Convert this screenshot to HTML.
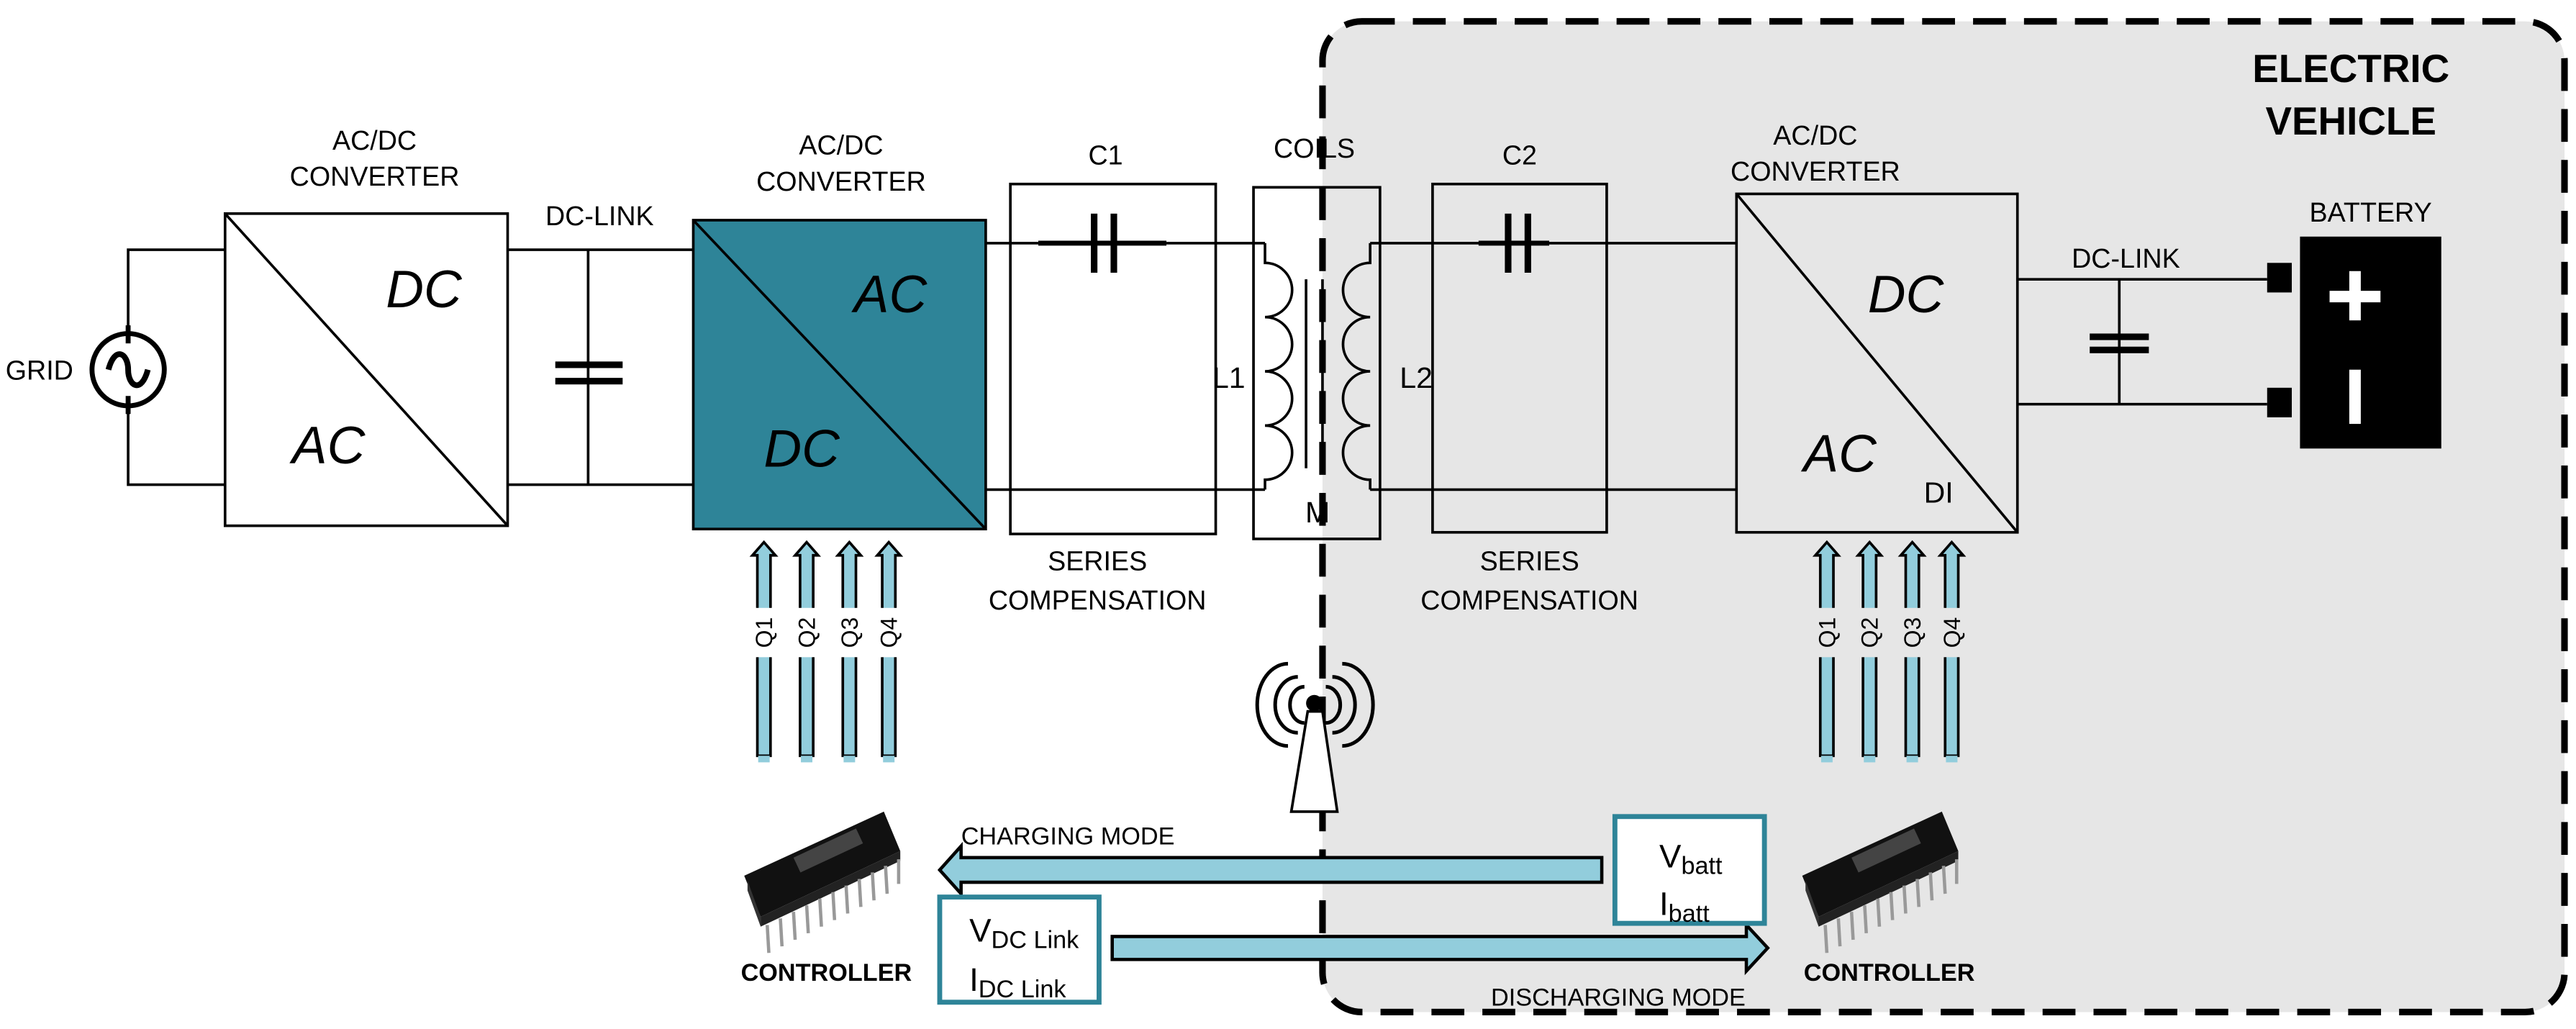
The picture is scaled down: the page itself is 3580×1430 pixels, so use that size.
<!DOCTYPE html>
<html><head><meta charset="utf-8"><style>
html,body{margin:0;padding:0;background:#fff;}
svg{display:block;}
text{font-family:"Liberation Sans",sans-serif;fill:#000;}
</style></head><body>
<svg width="3580" height="1430" viewBox="0 0 1568 626.3" xmlns="http://www.w3.org/2000/svg">
<defs>
<g id="chip">
  <polygon points="0,25 85,-14 95,10 10,50" fill="#111"/>
  <polygon points="2,28 10,50 10,56 2,34" fill="#333"/>
  <polygon points="10,50 95,10 95,16 10,56" fill="#222"/>
  <rect x="30" y="14" width="42" height="10" fill="#444" transform="rotate(-25 30 14)"/>
  <g stroke="#999" stroke-width="2">
    <line x1="14" y1="55" x2="15" y2="72"/><line x1="22" y1="51" x2="23" y2="68"/>
    <line x1="30" y1="47" x2="31" y2="64"/><line x1="38" y1="43" x2="39" y2="60"/>
    <line x1="46" y1="39" x2="47" y2="56"/><line x1="54" y1="35" x2="55" y2="52"/>
    <line x1="62" y1="31" x2="63" y2="48"/><line x1="70" y1="27" x2="71" y2="44"/>
    <line x1="78" y1="23" x2="79" y2="40"/><line x1="86" y1="19" x2="87" y2="36"/>
    <line x1="94" y1="15" x2="94" y2="30"/>
  </g>
</g>
<g id="qarrow">
  <polygon points="-4,0 -4,-122 -7,-122 0,-130 7,-122 4,-122 4,0" fill="#92cddc" stroke="#000" stroke-width="1.6"/>
  <rect x="-3.5" y="0" width="7" height="4" fill="#92cddc"/>
</g>
</defs>

<rect x="805" y="13" width="756" height="603" rx="24" fill="#e6e6e6" stroke="#000" stroke-width="4" stroke-dasharray="20,11"/>
<text x="1431" y="50" font-size="24" font-weight="bold" text-anchor="middle">ELECTRIC</text>
<text x="1431" y="82" font-size="24" font-weight="bold" text-anchor="middle">VEHICLE</text>

<g stroke="#000" stroke-width="1.6" fill="none">
  <circle cx="78" cy="225" r="22" stroke-width="3"/>
  <path d="M66,225 C70,210 78,215 78,225 C78,235 86,240 90,225" stroke-width="3.5"/>
  <path d="M78,203 V152 H137 M78,247 V295 H137"/>
  <line x1="78" y1="198" x2="78" y2="209" stroke-width="3"/>
  <line x1="78" y1="241" x2="78" y2="252" stroke-width="3"/>
  <rect x="137" y="130" width="172" height="190"/>
  <line x1="137" y1="130" x2="309" y2="320"/>
  <path d="M309,152 H422 M309,295 H422 M358,152 V295"/>
  <line x1="338" y1="222" x2="379" y2="222" stroke-width="4"/>
  <line x1="338" y1="232" x2="379" y2="232" stroke-width="4"/>
  <rect x="422" y="134" width="178" height="188" fill="#2e8498"/>
  <line x1="422" y1="134" x2="600" y2="322"/>
  <path d="M600,148 H632 M710,148 H770 M600,298 H770"/>
  <rect x="615" y="112" width="125" height="213"/>
  <line x1="632" y1="148" x2="710" y2="148" stroke-width="3"/>
  <line x1="666" y1="130" x2="666" y2="166" stroke-width="4"/>
  <line x1="678" y1="130" x2="678" y2="166" stroke-width="4"/>
  <rect x="763" y="114" width="77" height="214"/>
  <path d="M770,148 V160 a16,16 0 0 1 0,33 a16,16 0 0 1 0,33 a16,16 0 0 1 0,33 a16,16 0 0 1 0,33 V298"/>
  <line x1="795" y1="170" x2="795" y2="285" stroke-width="1.6"/>
  <line x1="805" y1="170" x2="805" y2="285" stroke-width="1.6"/>
  <path d="M834,148 V160 a16,16 0 0 0 0,33 a16,16 0 0 0 0,33 a16,16 0 0 0 0,33 a16,16 0 0 0 0,33 V298"/>
  <path d="M834,148 H914 M942,148 H1057 M834,298 H1057"/>
  <rect x="872" y="112" width="106" height="212"/>
  <line x1="900" y1="148" x2="943" y2="148" stroke-width="3"/>
  <line x1="918" y1="130" x2="918" y2="166" stroke-width="4"/>
  <line x1="930" y1="130" x2="930" y2="166" stroke-width="4"/>
  <rect x="1057" y="118" width="171" height="206"/>
  <line x1="1057" y1="118" x2="1228" y2="324"/>
  <path d="M1228,170 H1380 M1228,246 H1380 M1290,170 V246"/>
  <line x1="1272" y1="205" x2="1308" y2="205" stroke-width="4"/>
  <line x1="1272" y1="213" x2="1308" y2="213" stroke-width="4"/>
</g>

<rect x="1380" y="160" width="15" height="18" fill="#000"/>
<rect x="1380" y="236" width="15" height="18" fill="#000"/>
<rect x="1400" y="144" width="86" height="129" fill="#000"/>
<rect x="1430" y="165" width="7" height="30" fill="#fff"/>
<rect x="1418" y="177" width="31" height="7" fill="#fff"/>
<rect x="1430" y="225" width="7" height="33" fill="#fff"/>

<g font-size="16.5" text-anchor="middle">
  <text x="24" y="231">GRID</text>
  <text x="228" y="91">AC/DC</text><text x="228" y="113">CONVERTER</text>
  <text x="365" y="137">DC-LINK</text>
  <text x="512" y="94">AC/DC</text><text x="512" y="116">CONVERTER</text>
  <text x="673" y="100">C1</text>
  <text x="800" y="96">COILS</text>
  <text x="925" y="100">C2</text>
  <text x="1105" y="88">AC/DC</text><text x="1105" y="110">CONVERTER</text>
  <text x="1443" y="135">BATTERY</text>
  <text x="1294" y="163">DC-LINK</text>
  <text x="668" y="347">SERIES</text><text x="668" y="371">COMPENSATION</text>
  <text x="931" y="347">SERIES</text><text x="931" y="371">COMPENSATION</text>
  <text x="748" y="236" font-size="18">L1</text>
  <text x="862" y="236" font-size="18">L2</text>
  <text x="802" y="318" font-size="18">M</text>
  <text x="1180" y="306" font-size="18">DI</text>
</g>
<g font-size="32" font-style="italic" text-anchor="middle">
  <text x="258" y="187">DC</text><text x="200" y="282">AC</text>
  <text x="542" y="190">AC</text><text x="488" y="284">DC</text>
  <text x="1160" y="190">DC</text><text x="1120" y="287">AC</text>
</g>

<g>
  <use href="#qarrow" x="465" y="460"/><use href="#qarrow" x="491" y="460"/>
  <use href="#qarrow" x="517" y="460"/><use href="#qarrow" x="541" y="460"/>
  <use href="#qarrow" x="1112" y="460"/><use href="#qarrow" x="1138" y="460"/>
  <use href="#qarrow" x="1164" y="460"/><use href="#qarrow" x="1188" y="460"/>
</g>
<g fill="#fff">
  <rect x="458" y="370" width="14" height="30"/><rect x="484" y="370" width="14" height="30"/>
  <rect x="510" y="370" width="14" height="30"/><rect x="534" y="370" width="14" height="30"/>
</g>
<g fill="#e6e6e6">
  <rect x="1105" y="370" width="14" height="30"/><rect x="1131" y="370" width="14" height="30"/>
  <rect x="1157" y="370" width="14" height="30"/><rect x="1181" y="370" width="14" height="30"/>
</g>
<g font-size="14" text-anchor="middle">
  <text transform="translate(470,385) rotate(-90)">Q1</text>
  <text transform="translate(496,385) rotate(-90)">Q2</text>
  <text transform="translate(522,385) rotate(-90)">Q3</text>
  <text transform="translate(546,385) rotate(-90)">Q4</text>
  <text transform="translate(1117,385) rotate(-90)">Q1</text>
  <text transform="translate(1143,385) rotate(-90)">Q2</text>
  <text transform="translate(1169,385) rotate(-90)">Q3</text>
  <text transform="translate(1193,385) rotate(-90)">Q4</text>
</g>

<g stroke="#000" fill="none" stroke-width="2.2">
  <polygon points="796,433 805,433 814,494 786,494" fill="#fff" stroke-width="1.6"/>
  <path d="M794,418 a8,10 0 0 0 0,22 M807,418 a8,10 0 0 1 0,22"/>
  <path d="M790,412 a13,16 0 0 0 0,34 M811,412 a13,16 0 0 1 0,34"/>
  <path d="M784,404 a18,24 0 0 0 0,50 M817,404 a18,24 0 0 1 0,50"/>
</g>
<circle cx="800" cy="428" r="5" fill="#000"/>

<use href="#chip" x="453" y="508"/>
<use href="#chip" x="1097" y="508"/>
<g font-size="15" font-weight="bold" text-anchor="middle">
  <text x="503" y="597">CONTROLLER</text>
  <text x="1150" y="597">CONTROLLER</text>
</g>

<polygon points="975,522 585,522 585,515 572,529.5 585,544 585,537 975,537" fill="#92cddc" stroke="#000" stroke-width="2"/>
<text x="650" y="514" font-size="15" text-anchor="middle">CHARGING MODE</text>
<polygon points="677,570 1063,570 1063,563 1076,577 1063,591 1063,584 677,584" fill="#92cddc" stroke="#000" stroke-width="2"/>
<text x="985" y="612" font-size="15" text-anchor="middle">DISCHARGING MODE</text>

<rect x="983" y="497" width="91" height="65" fill="#fff" stroke="#2e8498" stroke-width="3"/>
<text x="1010" y="528" font-size="20">V<tspan font-size="15" dy="4">batt</tspan></text>
<text x="1010" y="557" font-size="20">I<tspan font-size="15" dy="4">batt</tspan></text>
<rect x="572" y="546" width="97" height="64" fill="#fff" stroke="#2e8498" stroke-width="3"/>
<text x="590" y="573" font-size="20">V<tspan font-size="15" dy="4">DC Link</tspan></text>
<text x="590" y="603" font-size="20">I<tspan font-size="15" dy="4">DC Link</tspan></text>
</svg>
</body></html>
